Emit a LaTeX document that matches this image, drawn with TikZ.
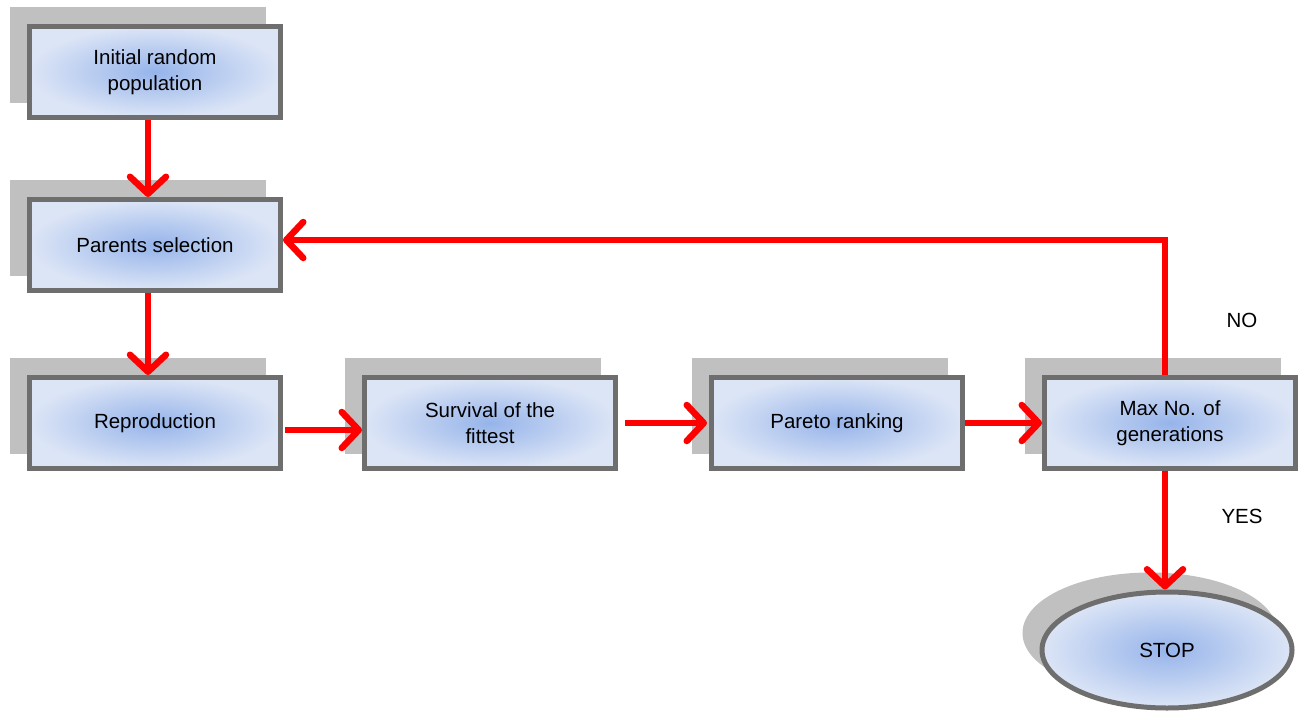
\documentclass[tikz,border=0pt]{standalone}
\usepackage{fontspec}
\setmainfont{Liberation Sans}
\usetikzlibrary{arrows.meta,shapes.geometric,shadows}
\definecolor{boxgray}{RGB}{110,110,110}
\definecolor{shadowgray}{RGB}{192,192,192}
\definecolor{innerblue}{RGB}{150,180,234}
\definecolor{outerblue}{RGB}{220,229,246}
\definecolor{arrred}{RGB}{255,0,0}
\tikzset{
  flowbox/.style={draw=boxgray, line width=5pt, inner color=innerblue, outer color=outerblue,
    minimum width=251pt, minimum height=91pt, align=center, font=\fontsize{20.5}{26}\selectfont,
    drop shadow={shadow xshift=-17pt, shadow yshift=17pt, fill=shadowgray, draw=shadowgray, line width=5pt, opacity=1}},
  stopshape/.style={ellipse, draw=boxgray, line width=5pt, inner color=innerblue, outer color=outerblue,
    minimum width=250pt, minimum height=116pt, font=\fontsize{20.5}{26}\selectfont,
    drop shadow={shadow xshift=-17pt, shadow yshift=17pt, fill=shadowgray, draw=shadowgray, line width=5pt, opacity=1}},
  arr/.style={draw=arrred, line width=6.5pt, -{Straight Barb[length=17pt, width=36pt, line cap=round, line join=round]}},
  lbl/.style={font=\fontsize{20.5}{26}\selectfont}
}
\begin{document}
\begin{tikzpicture}[x=1pt, y=-1pt]
\useasboundingbox (0,0) rectangle (1304,717);
\node[flowbox] (init) at (155,72) {Initial random\\population};
\node[flowbox] (par) at (155,245) {Parents selection};
\node[flowbox] (rep) at (155,423) {Reproduction};
\node[flowbox] (surv) at (490,423) {Survival of the\\fittest};
\node[flowbox] (par2) at (837,423) {Pareto ranking};
\node[flowbox] (maxg) at (1170,423) {Max No. of\\generations};
\node[stopshape] (stop) at (1167,650) {STOP};
\node[lbl] (no) at (1242,320) {NO};
\node[lbl] (yes) at (1242,516) {YES};
\draw[arr] ([xshift=-7pt]init.south) -- ([xshift=-7pt]par.north);
\draw[arr] ([xshift=-7pt]par.south) -- ([xshift=-7pt]rep.north);
\draw[arr] ([xshift=2pt,yshift=-7pt]rep.east) -- ([yshift=-7pt]surv.west);
\draw[arr] ([xshift=7pt]surv.east) -- ([xshift=-2pt]par2.west);
\draw[arr] (par2.east) -- (maxg.west);
\draw[arr] ([xshift=-5pt]maxg.north) |- ([yshift=5pt]par.east);
\draw[arr] ([xshift=-5pt]maxg.south) -- ([xshift=-2pt]stop.north);
\end{tikzpicture}
\end{document}
